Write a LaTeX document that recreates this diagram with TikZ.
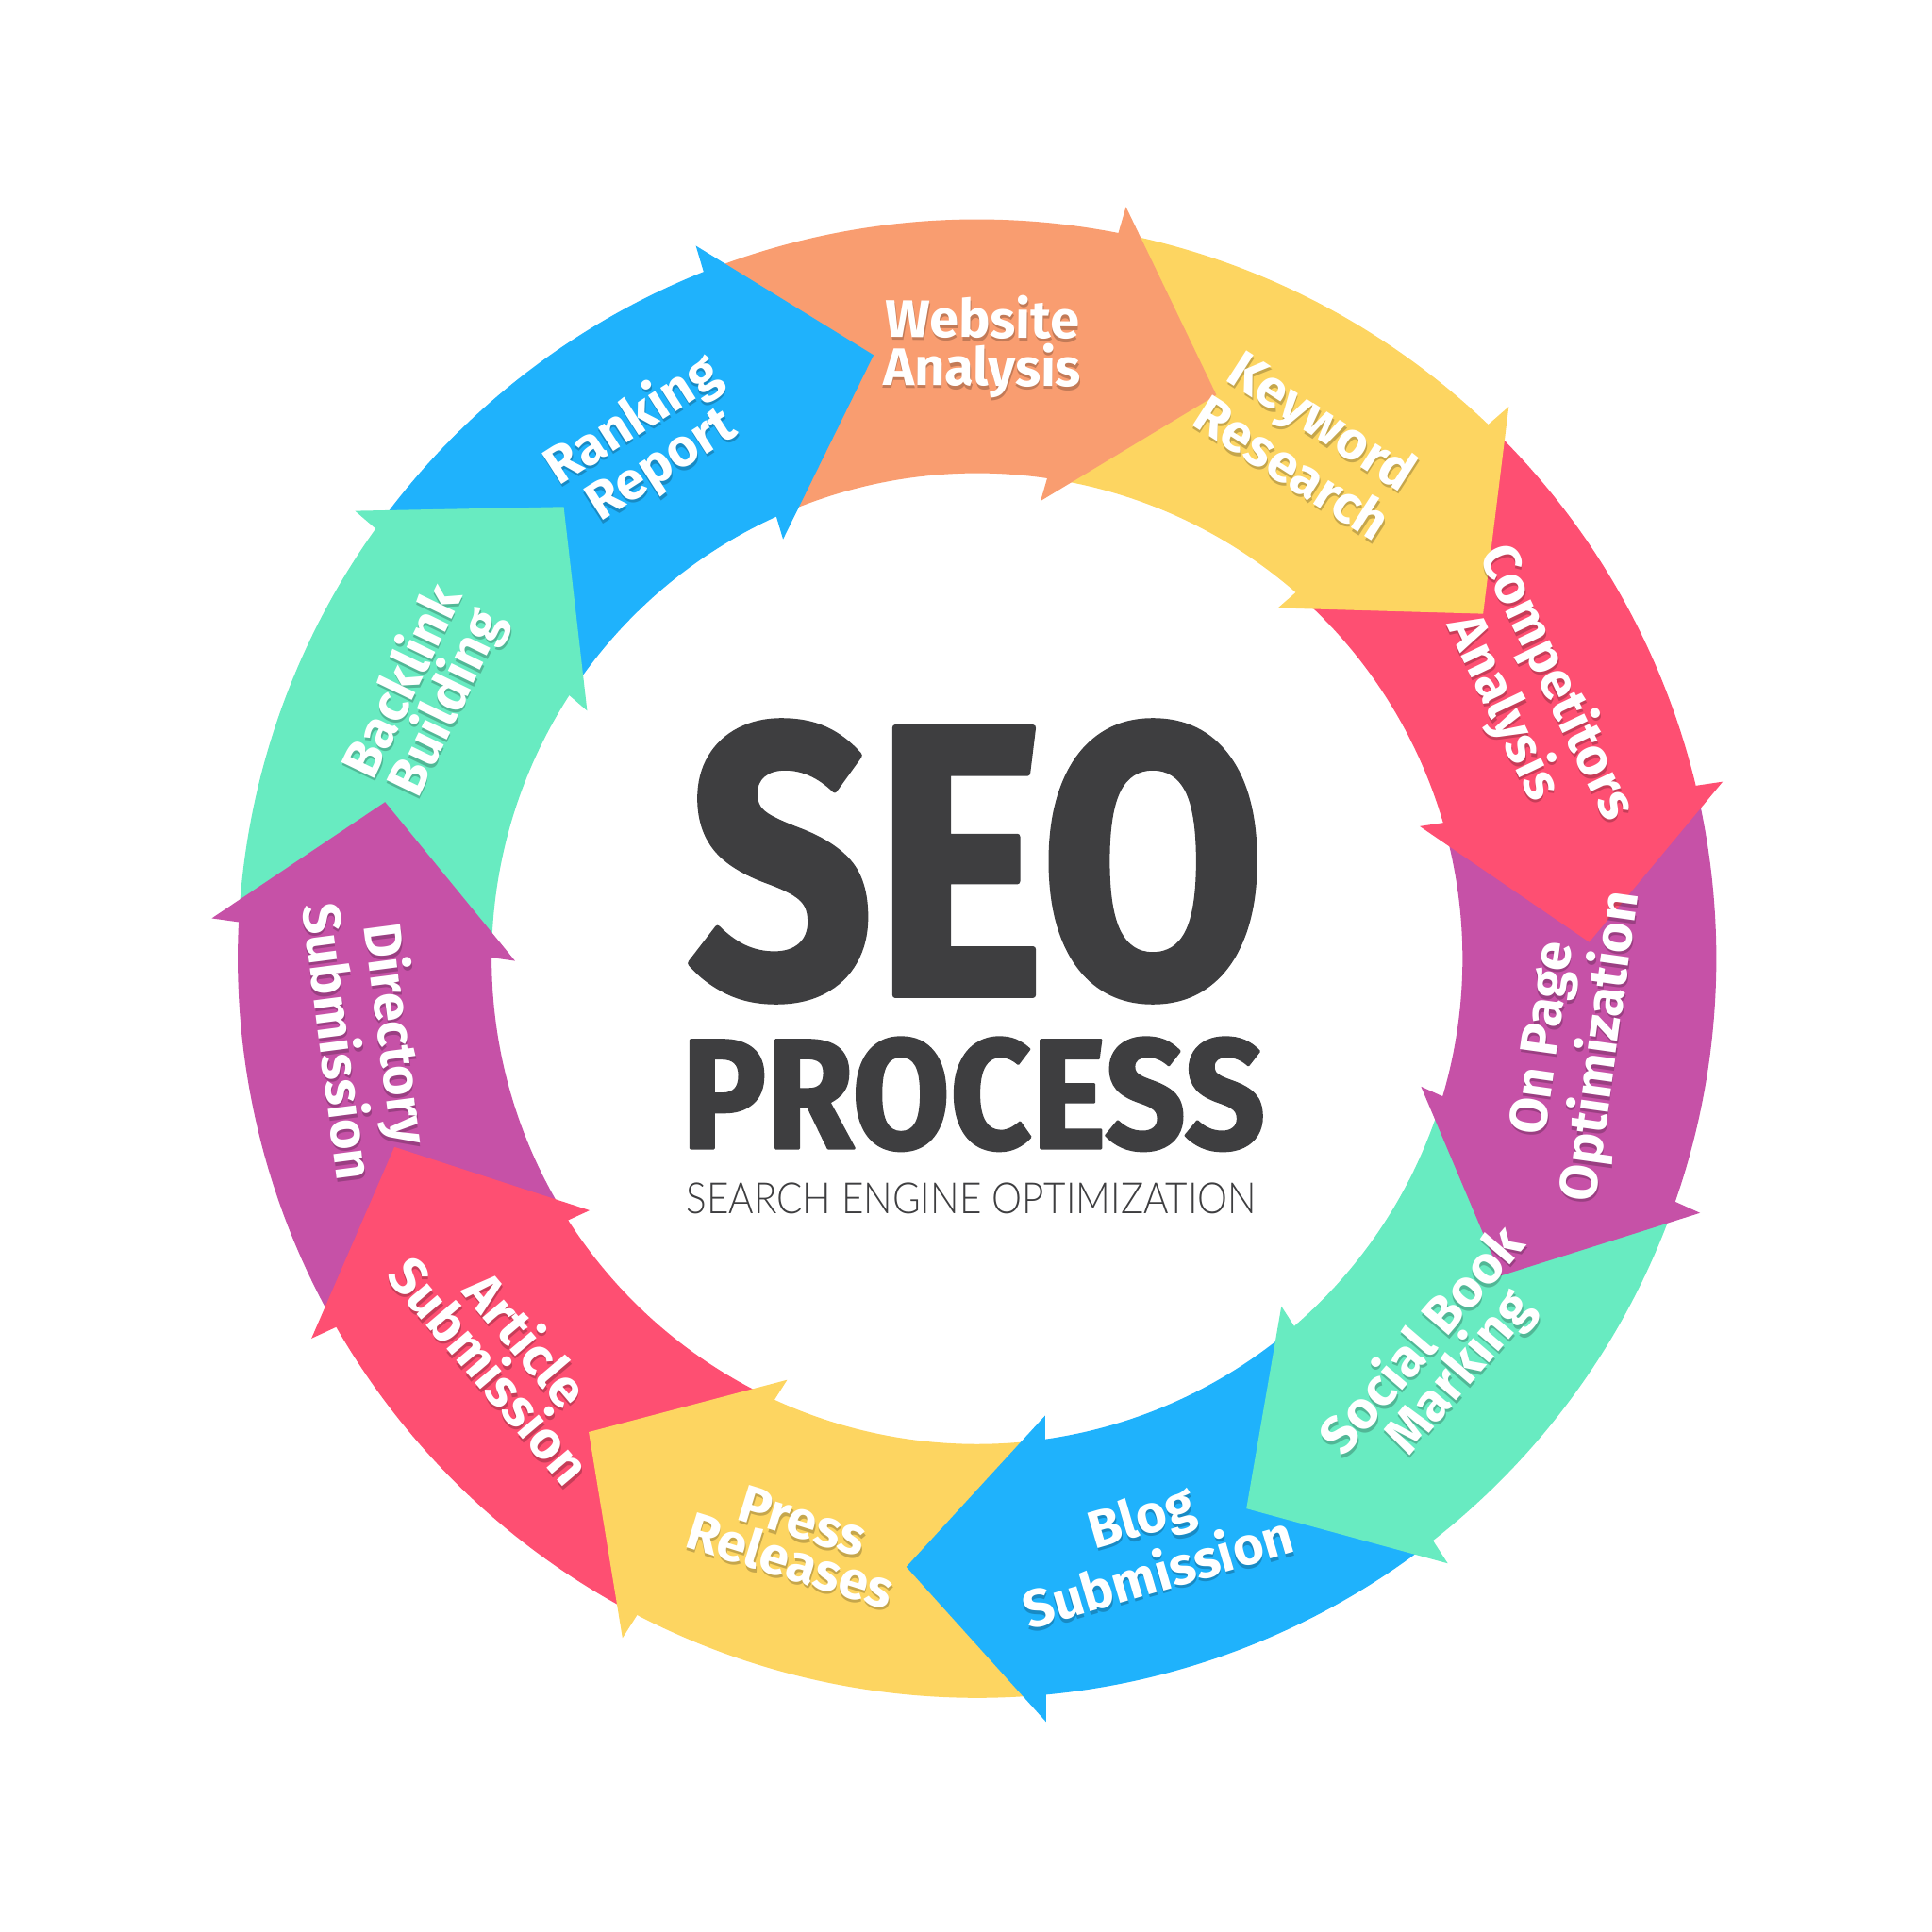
\documentclass[tikz,border=0pt]{standalone}
\usepackage{fontspec}
\setmainfont{Fira Sans}
\newfontfamily\thinfont{Lato Light}
\newfontfamily\seofont{Fira Sans}[BoldFeatures={FakeBold=1.6}]
\usetikzlibrary{calc}

\definecolor{orng}{HTML}{F99D70}
\definecolor{yell}{HTML}{FDD561}
\definecolor{rose}{HTML}{FE4F72}
\definecolor{plum}{HTML}{C651A7}
\definecolor{mint}{HTML}{68EBC1}
\definecolor{sky}{HTML}{1FB2FC}
\definecolor{ink}{HTML}{3E3E40}

\tikzset{
  lbl/.style={align=center, text=white, inner sep=0pt, font=\fontsize{12.2}{9.7}\selectfont\bfseries},
  lblshadow/.style={lbl, text=black, opacity=0.22}
}

\begin{document}
\begin{tikzpicture}[x=0.1mm, y=0.1mm, line join=round] %SEO cycle
	\useasboundingbox (-793,-790) rectangle (775,778);
	\def\Ro{600} \def\Ri{394} \def\Rm{497} \def\Bo{622} \def\Bi{375} \def\stp{32.727}
	% bands
	\foreach \k/\col in {0/orng,1/yell,2/rose,3/plum,4/mint,5/sky,6/yell,7/rose,8/plum,9/mint,10/sky}{
		\pgfmathsetmacro\ob{77.8-\stp*\k}
		\pgfmathsetmacro\ib{80.9-\stp*\k}
		\fill[\col] (\ob+\stp:\Ro) arc[start angle=\ob+\stp, end angle=\ob, radius=\Ro] -- (\ib:\Ri) arc[start angle=\ib, end angle=\ib+\stp, radius=\Ri] -- cycle;
	}
	% heads
	\foreach \k/\col in {0/orng,1/yell,2/rose,3/plum,4/mint,5/sky,6/yell,7/rose,8/plum,9/mint,10/sky}{
		\pgfmathsetmacro\ob{78.8-\stp*\k}
		\pgfmathsetmacro\ib{82.1-\stp*\k}
		\pgfmathsetmacro\tp{67.0-\stp*\k}
		\fill[\col] (\ob:\Bo) -- (\tp:\Rm) -- (\ib:\Bi) -- cycle;
	}
	% labels
	\foreach \k/\ang/\rr/\flip/\txt in {0/89.5/497/-90/{Website\\Analysis}, 1/57.3/497/-90/{Keyword\\Research}, 2/25.5/497/-90/{Competitors\\Analysis}, 3/-8.0/490/90/{On Page\\Optimization}, 4/-40.6/497/90/{Social Book\\Marking}, 5/-73.6/495/90/{Blog\\Submission}, 6/-107.2/495/90/{Press\\Releases}, 7/-139.8/497/90/{Article\\Submission}, 8/-172.6/497/90/{Directory\\Submission}, 9/-205.8/497/-90/{Backlink\\Building}, 10/-237.4/497/-90/{Ranking\\Report}}{
		\pgfmathsetmacro\rot{\ang+\flip}
		\node[lblshadow, rotate=\rot] (s\k) at ($(\ang:\rr)+(-80:2.6)$) {\txt};
		\node[lbl, rotate=\rot] (l\k) at (\ang:\rr) {\txt};
	}
	% centre
	\node[text=ink, inner sep=0pt] (seo) at (-0.5,79) {\resizebox{46.9mm}{22.2mm}{\seofont\bfseries SEO}};
	\node[text=ink, inner sep=0pt] (proc) at (-3,-110) {\resizebox{47.4mm}{9mm}{\seofont\bfseries PROCESS}};
	\node[text=ink, inner sep=0pt] (sub) at (-4.5,-194.5) {\resizebox{46.3mm}{2.5mm}{\thinfont SEARCH ENGINE OPTIMIZATION}};
\end{tikzpicture}
\end{document}
